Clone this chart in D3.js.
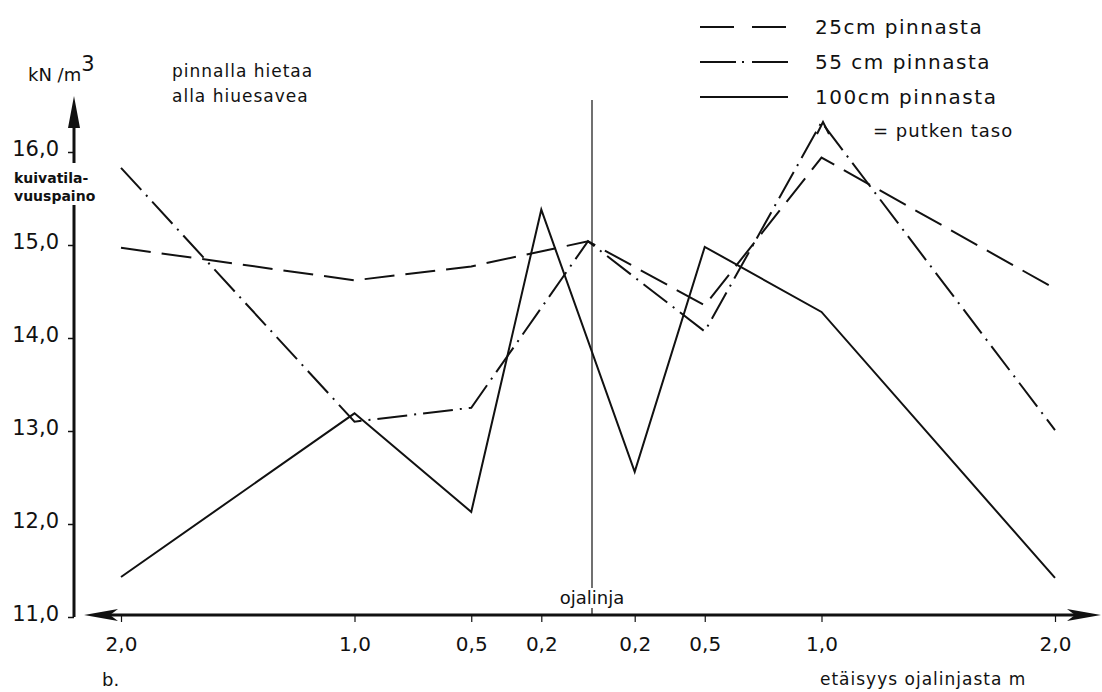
<!DOCTYPE html>
<html lang="fi">
<head>
    <meta charset="UTF-8">
    <title>kuivatilavuuspaino</title>
    <script src="https://cdn.jsdelivr.net/npm/d3@7"></script>
    <style>
        body { margin: 0; background: #fff; }
        svg { display: block; }
        text { font-family: "DejaVu Sans", sans-serif; fill: #111; }
    </style>
</head>
<body>
    <div id="chart"></div>

    <script>
        // distance from the ditch line (m), left side negative
        var distances = [-2.0, -1.0, -0.5, -0.2, 0, 0.2, 0.5, 1.0, 2.0];
        // dry unit weight kN/m3, null = no reading at that distance
        var depth25 = [14.97, 14.62, 14.77, null, 15.04, null, 14.35, 15.94, 14.53];
        var depth55 = [15.83, 13.10, 13.25, null, 15.04, null, 14.07, 16.32, 13.01];
        var depth100 = [11.43, 13.19, 12.13, 15.38, null, 12.56, 14.98, 14.28, 11.42];

        var yTicks = [11, 12, 13, 14, 15, 16];
        var xTicks = [-2.0, -1.0, -0.5, -0.2, 0.2, 0.5, 1.0, 2.0];

        var seriesNames = ["25cm pinnasta", "55 cm pinnasta", "100cm pinnasta"];

        var width = 1102;
        var height = 692;

        var svg = d3.select("#chart")
            .append("svg")
            .attr("width", width)
            .attr("height", height);

        var x = d3.scaleLinear().domain([-2, 2]).range([121, 1055]);
        var y = d3.scaleLinear().domain([11, 16]).range([617, 152]);

        var axisX = 74;
        var axisY = 615;

        function comma(v) { return Math.abs(v).toFixed(1).replace(".", ","); }

        // y axis ticks + labels
        var yAxis = svg.append("g")
            .attr("transform", "translate(" + axisX + ",0)")
            .call(d3.axisLeft(y).tickValues(yTicks).tickSize(6).tickSizeOuter(0).tickFormat(comma));
        yAxis.select(".domain").remove();
        yAxis.selectAll("line").attr("stroke", "#111").attr("stroke-width", 1.5);
        yAxis.selectAll("text")
            .attr("x", -15)
            .attr("dy", "0.15em")
            .style("font-size", "21px")
            .style("font-family", "DejaVu Sans, sans-serif");

        // y axis line, broken where the label sits
        svg.append("line")
            .attr("x1", axisX).attr("x2", axisX)
            .attr("y1", y(11)).attr("y2", 205)
            .attr("stroke", "#111").attr("stroke-width", 3);
        svg.append("line")
            .attr("x1", axisX).attr("x2", axisX)
            .attr("y1", 163).attr("y2", 118)
            .attr("stroke", "#111").attr("stroke-width", 3);
        svg.append("path")
            .attr("d", "M" + axisX + ",96 L" + (axisX - 6) + ",128 L" + (axisX + 6) + ",128 Z")
            .attr("fill", "#111");

        // x axis with arrows both ways
        svg.append("line")
            .attr("x1", 100).attr("x2", 1080)
            .attr("y1", axisY).attr("y2", axisY)
            .attr("stroke", "#111").attr("stroke-width", 3);
        svg.append("path")
            .attr("d", "M84," + axisY + " L118," + (axisY - 6) + " L110," + axisY + " L118," + (axisY + 6) + " Z")
            .attr("fill", "#111");
        svg.append("path")
            .attr("d", "M1101," + axisY + " L1067," + (axisY - 6) + " L1075," + axisY + " L1067," + (axisY + 6) + " Z")
            .attr("fill", "#111");

        var xAxis = svg.append("g")
            .attr("transform", "translate(0," + axisY + ")")
            .call(d3.axisBottom(x).tickValues(xTicks).tickSize(7).tickSizeOuter(0).tickFormat(comma));
        xAxis.select(".domain").remove();
        xAxis.selectAll("line").attr("stroke", "#111").attr("stroke-width", 1.2);
        xAxis.selectAll("text")
            .attr("y", 22)
            .attr("dy", "0.71em")
            .style("font-size", "20px")
            .style("font-family", "DejaVu Sans, sans-serif");

        // ditch line
        svg.append("line")
            .attr("x1", x(0) + 4).attr("x2", x(0) + 4)
            .attr("y1", 100).attr("y2", 588)
            .attr("stroke", "#111").attr("stroke-width", 1.2);
        svg.append("line")
            .attr("x1", x(0) + 4).attr("x2", x(0) + 4)
            .attr("y1", 608).attr("y2", axisY)
            .attr("stroke", "#111").attr("stroke-width", 1.2);
        svg.append("text")
            .attr("x", x(0) + 4).attr("y", 604)
            .attr("text-anchor", "middle")
            .style("font-size", "18px")
            .text("ojalinja");

        // series lines
        var line = d3.line()
            .x(function(d) { return x(d.x); })
            .y(function(d) { return y(d.v); });

        function pts(values) {
            return distances.map(function(d, i) { return {x: d, v: values[i]}; })
                .filter(function(d) { return d.v != null; });
        }

        var dashes = ["30,11", "30,7,2,7", null];
        var series = [depth25, depth55, depth100];

        series.forEach(function(s, i) {
            svg.append("path")
                .datum(pts(s))
                .attr("d", line)
                .attr("fill", "none")
                .attr("stroke", "#111")
                .attr("stroke-width", 2)
                .attr("stroke-dasharray", dashes[i]);
        });

        // legend
        var legend = svg.append("g");
        var legendRows = [27, 62, 97];
        seriesNames.forEach(function(name, i) {
            legend.append("line")
                .attr("x1", 700).attr("x2", 788)
                .attr("y1", legendRows[i]).attr("y2", legendRows[i])
                .attr("stroke", "#111").attr("stroke-width", 2)
                .attr("stroke-dasharray", i === 0 ? "34,18" : i === 1 ? "36,6,2,8" : null);
            legend.append("text")
                .attr("x", 815).attr("y", legendRows[i] + 7)
                .style("font-size", "20px")
                .style("letter-spacing", "1.5px")
                .text(name);
        });
        legend.append("path")
            .attr("d", "M817,134 L823,122 L829,134")
            .attr("fill", "none").attr("stroke", "#111").attr("stroke-width", 2);
        legend.append("text")
            .attr("x", 873).attr("y", 137)
            .style("font-size", "18px")
            .style("letter-spacing", "1px")
            .text("= putken taso");

        // unit and soil notes
        var unit = svg.append("text").attr("x", 28).attr("y", 81).style("font-size", "18px");
        unit.append("tspan").text("kN /m");
        unit.append("tspan").attr("dy", -10).style("font-size", "21px").text("3");

        svg.append("text").attr("x", 172).attr("y", 77).style("font-size", "17px")
            .style("letter-spacing", "1px").text("pinnalla hietaa");
        svg.append("text").attr("x", 172).attr("y", 102).style("font-size", "17px")
            .style("letter-spacing", "1px").text("alla hiuesavea");

        svg.append("text").attr("x", 14).attr("y", 183).style("font-size", "14px")
            .style("font-weight", "bold").text("kuivatila-");
        svg.append("text").attr("x", 14).attr("y", 201).style("font-size", "14px")
            .style("font-weight", "bold").text("vuuspaino");

        svg.append("text").attr("x", 820).attr("y", 685).style("font-size", "17px")
            .style("letter-spacing", "1px").text("etäisyys  ojalinjasta m");
        svg.append("text").attr("x", 102).attr("y", 686).style("font-size", "18px").text("b.");
    </script>
</body>
</html>
